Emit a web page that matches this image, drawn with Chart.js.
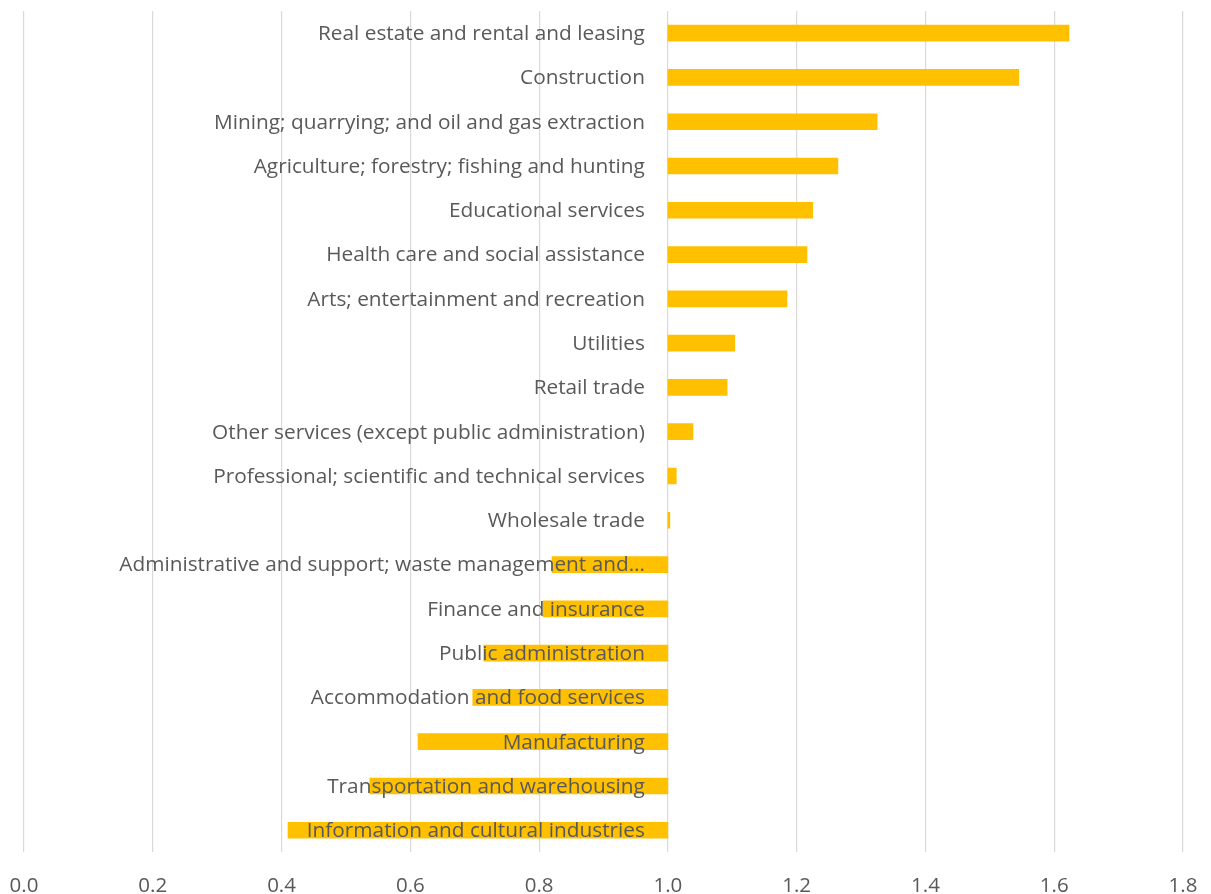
<!DOCTYPE html>
<html>
<head>
<meta charset="utf-8">
<script src="https://cdn.jsdelivr.net/npm/chart.js@4/dist/chart.umd.min.js"></script>
<style>
  html, body { margin: 0; padding: 0; background: #fff; }
  #wrap { width: 1211px; height: 894px; }
</style>
</head>
<body>
<div id="wrap"><canvas id="chart"></canvas></div>
<script>
// Industries, top to bottom
const industries = [
    'Real estate and rental and leasing',
    'Construction',
    'Mining; quarrying; and oil and gas extraction',
    'Agriculture; forestry; fishing and hunting',
    'Educational services',
    'Health care and social assistance',
    'Arts; entertainment and recreation',
    'Utilities',
    'Retail trade',
    'Other services (except public administration)',
    'Professional; scientific and technical services',
    'Wholesale trade',
    'Administrative and support; waste management and\u2026',
    'Finance and insurance',
    'Public administration',
    'Accommodation and food services',
    'Manufacturing',
    'Transportation and warehousing',
    'Information and cultural industries',
];

const ratios = [
    1.623, 1.545, 1.325, 1.264, 1.225, 1.216, 1.185, 1.104, 1.092, 1.039,
    1.013, 1.003, 0.820, 0.806, 0.714, 0.697, 0.612, 0.537, 0.410,
];

const baseline = 1.0;
const xTicks = [0.0, 0.2, 0.4, 0.6, 0.8, 1.0, 1.2, 1.4, 1.6, 1.8];

const FONT = '"Open Sans", "Noto Sans", sans-serif';
const TEXT = '#595959';

// Draw category labels next to the 1.0 line, on top of bars
const innerLabels = {
    id: 'innerLabels',
    afterDatasetsDraw(chart) {
        const { ctx, scales: { x, y } } = chart;
        const right = x.getPixelForValue(baseline) - 23;
        ctx.save();
        ctx.font = '20.8px ' + FONT;
        ctx.fillStyle = TEXT;
        ctx.textAlign = 'right';
        ctx.textBaseline = 'middle';
        industries.forEach((name, i) => {
            ctx.fillText(name, right, y.getPixelForValue(i) + 1);
        });
        ctx.restore();
    },
};

new Chart(document.getElementById('chart'), {
    type: 'bar',
    data: {
        labels: industries,
        datasets: [{
            data: ratios.map(v => [baseline, v]),
            backgroundColor: '#FFC000',
            barThickness: 16,
        }],
    },
    options: {
        indexAxis: 'y',
        responsive: true,
        maintainAspectRatio: false,
        animation: false,
        layout: { padding: { left: 24, right: 28, top: 11, bottom: -4 } },
        plugins: {
            legend: { display: false },
            tooltip: { enabled: false },
        },
        scales: {
            x: {
                min: 0,
                max: 1.8,
                afterBuildTicks(scale) {
                    scale.ticks = xTicks.map(v => ({ value: v }));
                },
                ticks: {
                    color: TEXT,
                    font: { family: FONT, size: 20.5 },
                    padding: 0,
                    maxRotation: 0,
                    callback: v => Number(v).toFixed(1),
                },
                grid: {
                    color: '#d9d9d9',
                    lineWidth: 1.2,
                    drawTicks: true,
                    tickLength: 21,
                    tickColor: 'rgba(0,0,0,0)',
                },
                border: { display: false },
            },
            y: {
                display: false,
            },
        },
    },
    plugins: [innerLabels],
});
</script>
</body>
</html>
